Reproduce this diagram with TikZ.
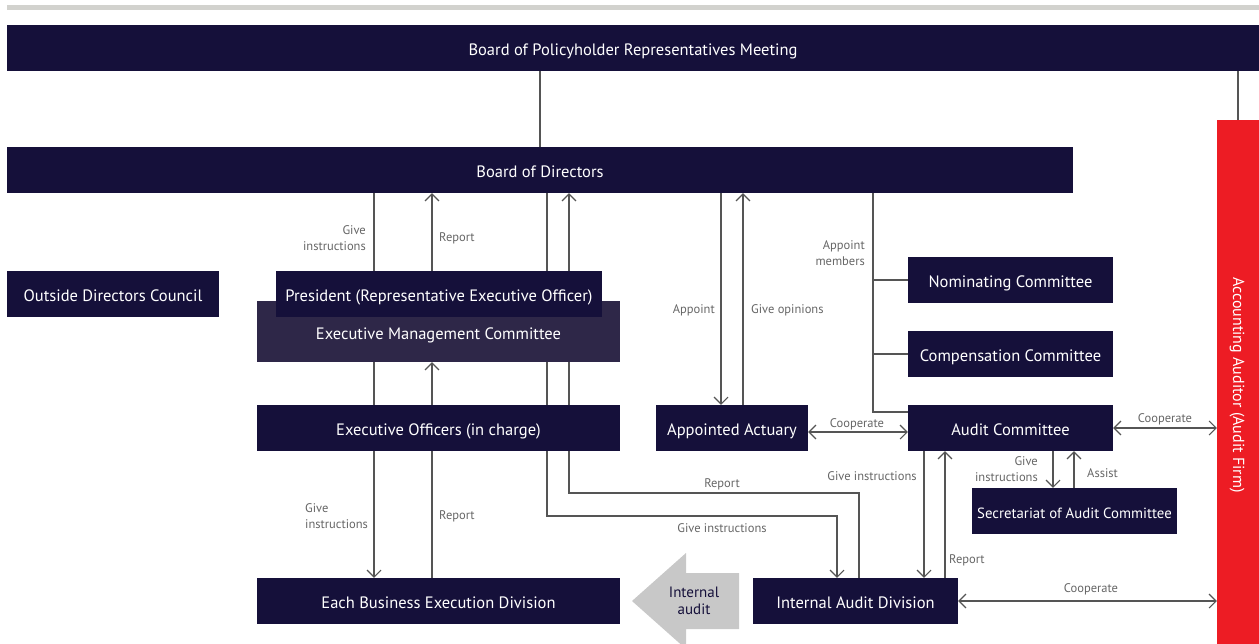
\documentclass[tikz,border=0pt]{standalone}
\usepackage{fontspec}
\setmainfont{PT Sans}
\usetikzlibrary{arrows.meta}
\definecolor{navy}{HTML}{15103A}
\definecolor{plum}{HTML}{2E2748}
\definecolor{alarm}{HTML}{ED1C24}
\definecolor{wirecol}{HTML}{555555}
\definecolor{notecol}{HTML}{666666}
\definecolor{stripcol}{HTML}{D2D2CE}
\definecolor{hintcol}{HTML}{C8C8C8}
\pgfdeclarelayer{back}
\pgfsetlayers{back,main}
\begin{document}
\begin{tikzpicture}[x=1pt,y=-1pt,
  box/.style={fill=navy,text=white,inner sep=0pt,text height=16pt,text depth=2pt,
    font=\fontsize{16.5}{19}\selectfont},
  lbl/.style={text=notecol,inner sep=0pt,font=\fontsize{12.5}{16}\selectfont},
  wire/.style={draw=wirecol,line width=1.1pt},
  >={Straight Barb[length=7pt,width=14pt]}]
\useasboundingbox (0,0) rectangle (1259,643);
\clip (0,0) rectangle (1259,643);

% header rule
\fill[stripcol] (7,5) rectangle (1259,10);

% governance bodies
\node[box,minimum width=1252pt,minimum height=46pt] (top) at (633,48) {Board of Policyholder Representatives Meeting};
\node[box,minimum width=1066pt,minimum height=46pt] (bod) at (540,170) {Board of Directors};
\node[box,minimum width=212pt,minimum height=46pt] (odc) at (113,294) {Outside Directors Council};

% execution side
\node[box,fill=plum,minimum width=363pt,minimum height=61pt,text depth=0pt] (emc) at (438.5,331.5) {Executive Management Committee};
\node[box,minimum width=326pt,minimum height=46pt] (pres) at (439,294) {President (Representative Executive Officer)};
\node[box,minimum width=363pt,minimum height=46pt] (eo) at (438.5,428) {Executive Officers (in charge)};
\node[box,minimum width=363pt,minimum height=46pt] (ebd) at (438.5,601) {Each Business Execution Division};

% oversight side
\node[box,minimum width=152pt,minimum height=46pt] (aa) at (732,428) {Appointed Actuary};
\node[box,minimum width=205pt,minimum height=46pt] (nom) at (1010.5,280) {Nominating Committee};
\node[box,minimum width=205pt,minimum height=46pt] (comp) at (1010.5,354) {Compensation Committee};
\node[box,minimum width=205pt,minimum height=46pt] (ac) at (1010.5,428) {Audit Committee};
\node[box,minimum width=205pt,minimum height=46pt,font=\fontsize{14.8}{18}\selectfont] (sec) at (1074.5,511) {Secretariat of Audit Committee};
\node[box,minimum width=205pt,minimum height=46pt] (iad) at (855.5,601) {Internal Audit Division};

% external auditor
\node[fill=alarm,inner sep=0pt,minimum width=42pt,minimum height=530pt] (red) at (1238,385) {};
\node[text=white,rotate=-90,inner sep=0pt,font=\fontsize{16}{19}\selectfont] (redtxt) at (1237,385) {Accounting Auditor (Audit Firm)};

% internal audit block arrow
\fill[hintcol] (632,601) -- (686,553) -- (686,573) -- (739,573) -- (739,629) -- (686,629) -- (686,649) -- cycle;
\node[text=navy,align=center,inner sep=0pt,font=\fontsize{15}{17}\selectfont] (ia) at (694,601) {Internal\\audit};

% connector columns
\coordinate (gA) at (374,0);
\coordinate (rA) at (432,0);
\coordinate (gB) at (547,0);
\coordinate (rB) at (569,0);
\coordinate (ap) at (721,0);
\coordinate (op) at (743,0);
\coordinate (gC) at (924,0);
\coordinate (rC) at (945,0);
\coordinate (gD) at (1053,0);
\coordinate (as) at (1074,0);
\coordinate (amc) at (873,412);
\coordinate (rTurn) at (859,493);
\coordinate (gTurn) at (837,516);

\begin{pgfonlayer}{back}
\draw[wire] (top.south -| bod.north) -- (bod.north);
\draw[wire] (top.south -| red.north) -- (red.north);
% president line: instructions down, reports up
\draw[wire] (bod.south -| gA) -- (pres.north -| gA);
\draw[wire] (emc.south -| gA) -- (eo.north -| gA);
\draw[wire,->] (eo.south -| gA) -- (ebd.north -| gA);
\draw[wire,->] (pres.north -| rA) -- (bod.south -| rA);
\draw[wire,->] (eo.north -| rA) -- (emc.south -| rA);
\draw[wire] (ebd.north -| rA) -- (eo.south -| rA);
% board to internal audit division
\draw[wire] (bod.south -| gB) -- (pres.north -| gB);
\draw[wire] (emc.south -| gB) -- (eo.north -| gB);
\draw[wire,->] (eo.south -| gB) -- (gB |- gTurn) -- (gTurn) -- (iad.north -| gTurn);
\draw[wire,->] (pres.north -| rB) -- (bod.south -| rB);
\draw[wire] (eo.north -| rB) -- (emc.south -| rB);
\draw[wire] (iad.north -| rTurn) -- (rTurn) -- (rTurn -| rB) -- (eo.south -| rB);
% actuary
\draw[wire,->] (bod.south -| ap) -- (aa.north -| ap);
\draw[wire,->] (aa.north -| op) -- (bod.south -| op);
% committee members
\draw[wire] (bod.south -| amc) -- (amc) -- (amc -| ac.west);
\draw[wire] (nom.west -| amc) -- (nom.west);
\draw[wire] (comp.west -| amc) -- (comp.west);
% audit committee
\draw[wire,->] (ac.south -| gC) -- (iad.north -| gC);
\draw[wire,->] (iad.north -| rC) -- (ac.south -| rC);
\draw[wire,->] (ac.south -| gD) -- (sec.north -| gD);
\draw[wire,->] (sec.north -| as) -- (ac.south -| as);
% cooperation
\draw[wire,<->] ([yshift=-4pt]aa.east) -- ([yshift=-4pt]aa.east -| ac.west);
\draw[wire,<->] (ac.east) -- (ac.east -| red.west);
\draw[wire,<->] (iad.east) -- (iad.east -| red.west);
\end{pgfonlayer}

% connector labels
\node[lbl,anchor=east,align=right] (l1) at (366,238) {Give\\instructions};
\node[lbl,anchor=west] (l2) at (439,238) {Report};
\node[lbl,anchor=east] (l3) at (715,310) {Appoint};
\node[lbl,anchor=west] (l4) at (751,310) {Give opinions};
\node[lbl,anchor=east,align=right] (l5) at (865,253) {Appoint\\members};
\node[lbl] (l6) at (857,424) {Cooperate};
\node[lbl] (l7) at (1165,419) {Cooperate};
\node[lbl] (l8) at (872,476) {Give instructions};
\node[lbl,anchor=west] (l9) at (949,560) {Report};
\node[lbl,anchor=east,align=right] (l10) at (1038,469) {Give\\instructions};
\node[lbl,anchor=west] (l11) at (1087,473) {Assist};
\node[lbl] (l12) at (1091,589) {Cooperate};
\node[lbl] (l13) at (722,484) {Report};
\node[lbl] (l14) at (722,528) {Give instructions};
\node[lbl,anchor=west,align=left] (l15) at (305,516) {Give\\instructions};
\node[lbl,anchor=west] (l16) at (439,516) {Report};
\end{tikzpicture}
\end{document}
